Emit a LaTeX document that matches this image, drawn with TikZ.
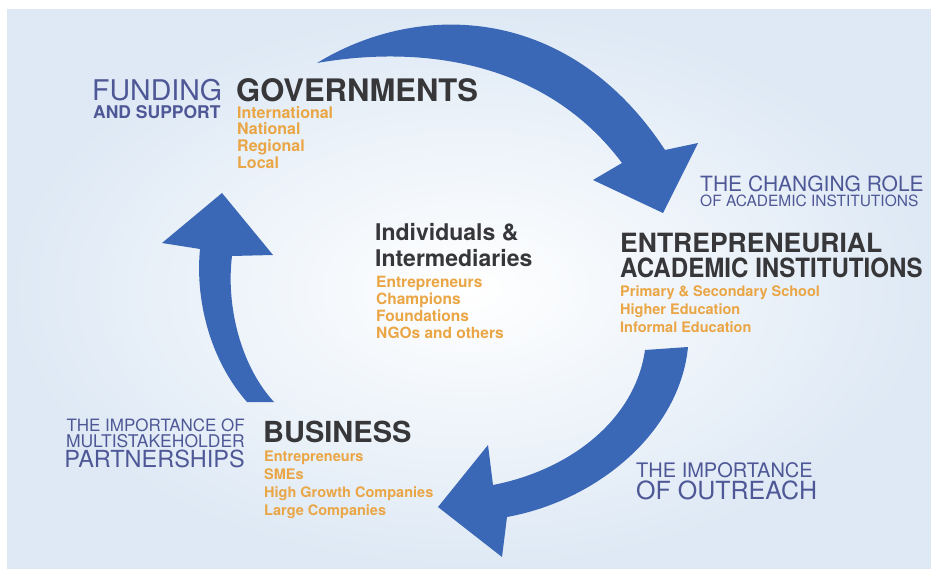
\documentclass[tikz,border=0pt]{standalone}
\usepackage{fontspec}
\setmainfont{TeX Gyre Heros}
\definecolor{arrowblue}{RGB}{58,103,182}
\definecolor{lblblue}{RGB}{78,88,150}
\definecolor{headgray}{RGB}{55,55,58}
\definecolor{itemorange}{RGB}{234,165,68}
\definecolor{bgblue}{RGB}{222,233,245}
\newcommand{\fsz}[2]{\fontsize{#1}{#2}\selectfont}
\tikzset{
	cyclearrow/.style={fill=arrowblue},
	bluelbl/.style={text=lblblue,inner sep=0pt,anchor=north west},
	headlbl/.style={text=headgray,inner sep=0pt,anchor=north west,align=left},
	itemlist/.style={text=itemorange,inner sep=0pt,anchor=north west,align=left},
}

\begin{document}
\begin{tikzpicture}[x=1pt,y=-1pt]
	\useasboundingbox (0,0) rectangle (931,569);
	\fill[white] (0,0) rectangle (931,569);
	\fill[inner color=white,outer color=bgblue] (7,10) rectangle (931,569);

	% the three arrows of the cycle
	\fill[cyclearrow] (317,63) .. controls (420,0) and (570,5) .. (665,150) -- (698,143) -- (663,213) -- (593,180) -- (622,163) .. controls (545,60) and (420,45) .. cycle;
	\fill[cyclearrow] (645,350) -- (688,347) .. controls (680,430) and (600,500) .. (507,517) -- (502,557) -- (438,507) -- (488,445) -- (493,485) .. controls (570,470) and (635,420) .. cycle;
	\fill[cyclearrow] (274,402) -- (247,402) .. controls (210,360) and (195,300) .. (200,249) -- (162,243) -- (222,193) -- (273,255) -- (232,256) .. controls (226,305) and (240,365) .. cycle;

	% governments
	\node[bluelbl,font=\fsz{28.5}{28.5}] (fund) at (92,79) {FUNDING};
	\node[bluelbl,font=\bfseries\fsz{17.5}{17.5}] (support) at (93,105) {AND SUPPORT};
	\node[headlbl,font=\bfseries\fsz{31}{31}] (gov) at (236,78) {GOVERNMENTS};
	\node[itemlist,font=\bfseries\fsz{16}{16.7}] (govlist) at (237,106) {International\\National\\Regional\\Local};

	% academic institutions
	\node[bluelbl,font=\fsz{21}{21}] (changing) at (700,176) {THE CHANGING ROLE};
	\node[bluelbl,font=\fsz{15.5}{15.5}] (changingsub) at (700,195) {OF ACADEMIC INSTITUTIONS};
	\node[headlbl,font=\bfseries\fsz{26.5}{25}] (eai) at (620,233) {ENTREPRENEURIAL\\\scalebox{0.91}[1]{ACADEMIC INSTITUTIONS}};
	\node[itemlist,font=\bfseries\fsz{14.5}{18}] (eailist) at (620,285) {Primary \& Secondary School\\Higher Education\\Informal Education};

	% individuals
	\node[headlbl,font=\bfseries\fsz{23}{26}] (indiv) at (375,223) {Individuals \&\\Intermediaries};
	\node[itemlist,font=\bfseries\fsz{15.5}{17}] (indivlist) at (376,276) {Entrepreneurs\\Champions\\Foundations\\NGOs and others};

	% business
	\node[bluelbl,anchor=north east,font=\fsz{17}{17}] (impa) at (245,419) {THE IMPORTANCE OF};
	\node[bluelbl,anchor=north east,font=\fsz{17.5}{17.5}] (impb) at (245,434) {MULTISTAKEHOLDER};
	\node[bluelbl,anchor=north east,font=\fsz{23.5}{23.5}] (partner) at (245,450) {PARTNERSHIPS};
	\node[headlbl,font=\bfseries\fsz{29}{29}] (business) at (263,421) {BUSINESS};
	\node[itemlist,font=\bfseries\fsz{14.5}{18}] (buslist) at (264,451) {Entrepreneurs\\SMEs\\High Growth Companies\\Large Companies};

	% outreach
	\node[bluelbl,font=\fsz{20}{20}] (outa) at (636,462) {THE IMPORTANCE};
	\node[bluelbl,font=\fsz{25}{25}] (outb) at (636,481) {OF OUTREACH};
\end{tikzpicture}
\end{document}
